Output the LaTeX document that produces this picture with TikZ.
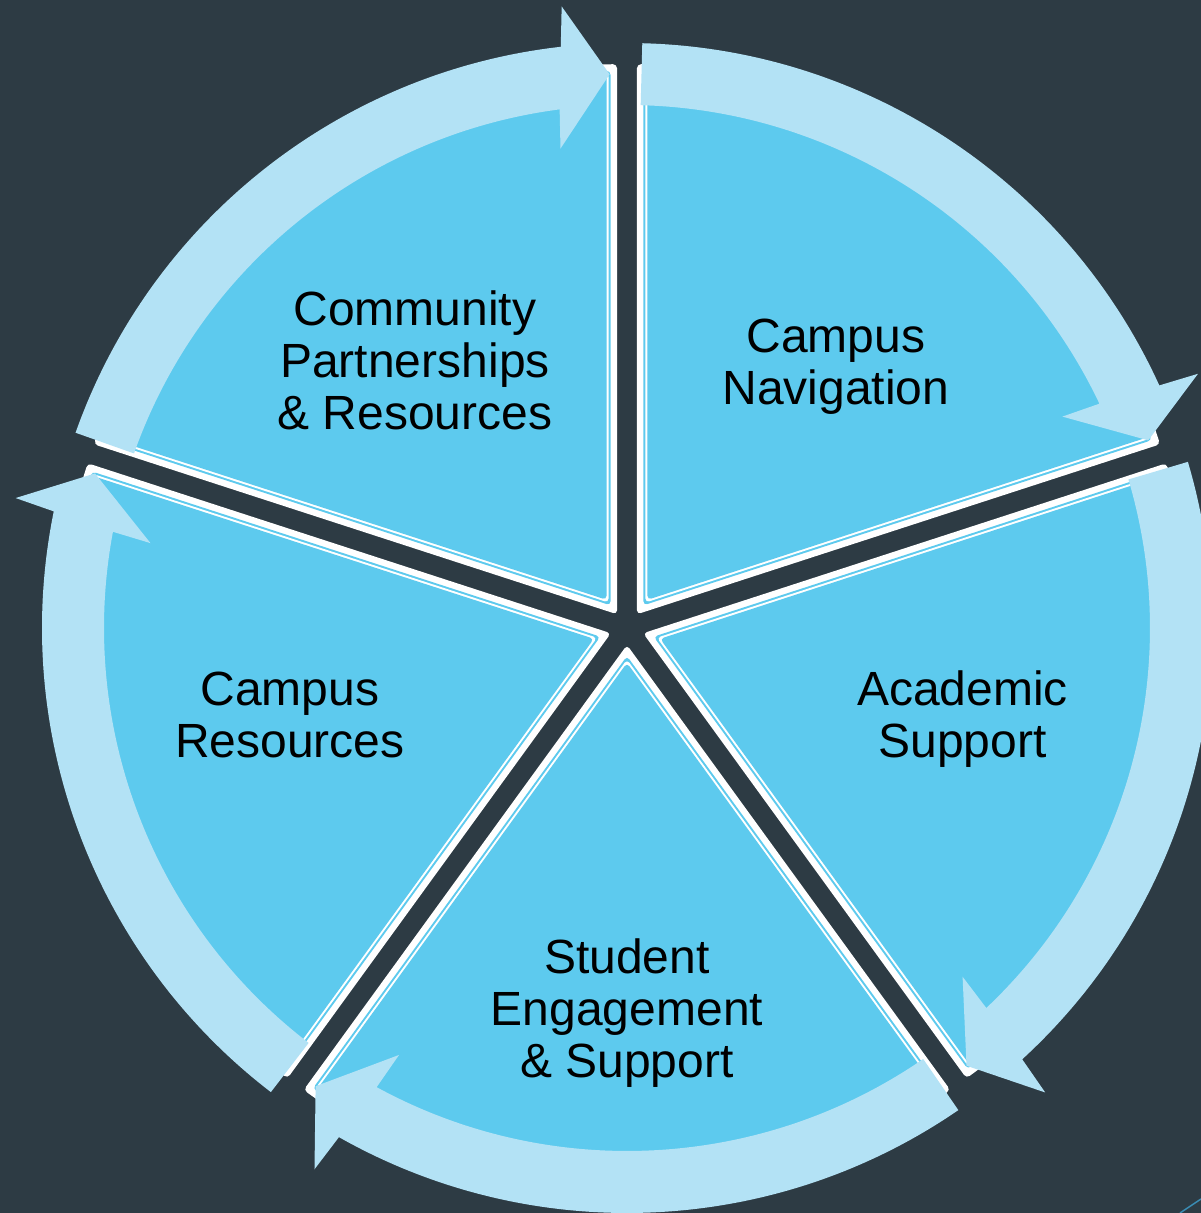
\documentclass[tikz,border=0pt]{standalone}
\usepackage{fontspec}
\setmainfont{Liberation Sans}
\usetikzlibrary{positioning}

\definecolor{slate}{HTML}{2D3B44}
\definecolor{piefill}{HTML}{5DCAEE}
\definecolor{bandfill}{HTML}{B3E2F5}

\newcommand\pieoff{17}
\newcommand\pierad{550}

% one layer of a slice: bisector, inset, colour
\newcommand\slicelayer[3]{%
  \pgfmathsetmacro\slicecut{asin(#2/(\pierad-#2))}
  \fill[#3,rounded corners=4] ([shift={(#1:\pieoff)}]{#1}:{#2/sin(36)})
    -- ([shift={(#1:\pieoff)}]{#1+36-\slicecut}:{\pierad-#2})
    arc[start angle={#1+36-\slicecut}, end angle={#1-36+\slicecut}, radius={\pierad-#2}]
    -- cycle;}

\newcommand\pieslice[1]{%
  \slicelayer{#1}{0}{white}
  \slicelayer{#1}{6.5}{piefill}
  \slicelayer{#1}{8.5}{white}
  \slicelayer{#1}{10.5}{piefill}}

% curved arrow from divider #1 to divider #2, clockwise
\newcommand\cyclearrow[2]{%
  \fill[bandfill] ({#1-1.5}:585) arc[start angle={#1-1.5}, end angle={#2+6.5}, radius=585]
    -- ({#2+6}:625) -- ({#2+1.8}:554) -- ({#2+7.9}:484) -- ({#2+7.4}:523)
    arc[start angle={#2+7.4}, end angle={#1-1.5}, radius=523] -- cycle;}

\begin{document}
\begin{tikzpicture}[x=1pt,y=1pt,
    pietext/.style={align=center,text=black,
      font=\fontsize{48}{52}\selectfont}]

  \useasboundingbox (-627,-585) rectangle (574,628);
  \clip (-627,-585) rectangle (574,628);
  \fill[slate] (-627,-585) rectangle (574,628);

  % slices
  \foreach \b in {54,-18,-90,-162,126} {\pieslice{\b}}

  % arrows round the rim
  \foreach \s/\e in {90/18,18/-54,-54/-126,-126/-198,162/90} {\cyclearrow{\s}{\e}}

  \node[pietext] (nav) at (209,261.5) {Campus\\Navigation};
  \node[pietext] (acad) at (335.5,-91.5) {Academic\\Support};
  \node[pietext] (engage) at (0,-385) {Student\\Engagement\\\& Support};
  \node[pietext] (res) at (-337,-87) {Campus\\Resources};
  \node[pietext] (comm) at (-212,268) {Community\\Partnerships\\\& Resources};

  \draw[color={rgb,255:red,58;green,141;blue,181},line width=1.5] (553,-585) -- (574,-571);
\end{tikzpicture}
\end{document}
